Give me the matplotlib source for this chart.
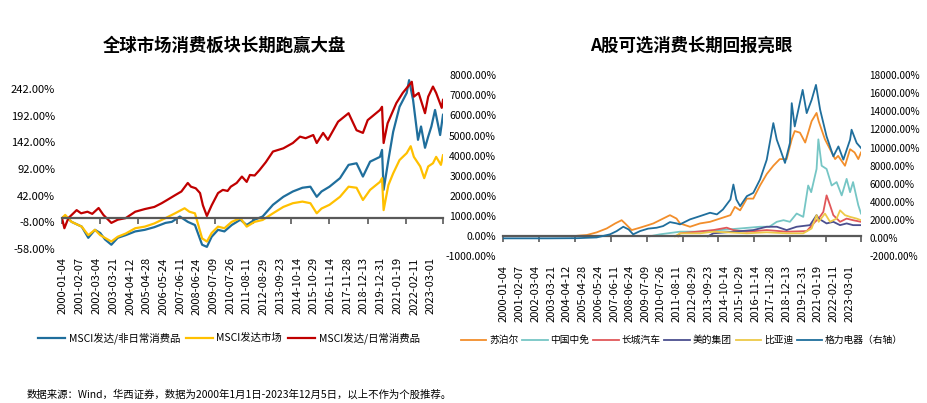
import numpy as np
import matplotlib
matplotlib.use("Agg")
import matplotlib.pyplot as plt
from datetime import date

plt.rcParams['font.family'] = ['Noto Sans CJK SC', 'DejaVu Sans']
plt.rcParams['axes.unicode_minus'] = False

# ---------------- data ----------------
date_labels = ["2000-01-04", "2001-02-07", "2002-03-04", "2003-03-21", "2004-04-12",
               "2005-04-28", "2006-05-24", "2007-06-11", "2008-06-24", "2009-07-09",
               "2010-07-26", "2011-08-11", "2012-08-29", "2013-09-23", "2014-10-14",
               "2015-10-29", "2016-11-14", "2017-11-28", "2018-12-13", "2019-12-31",
               "2021-01-19", "2022-02-11", "2023-03-01"]

left_title = "全球市场消费板块长期跑赢大盘"
right_title = "A股可选消费长期回报亮眼"
left_names = ["MSCI发达/非日常消费品", "MSCI发达市场", "MSCI发达/日常消费品"]
right_names = ["苏泊尔", "中国中免", "长城汽车", "美的集团", "比亚迪", "格力电器（右轴）"]
footer = "数据来源：Wind，华西证券，数据为2000年1月1日-2023年12月5日，以上不作为个股推荐。"

# left chart (cumulative return, %), (decimal year, value)
msci_discretionary = [(2000.0, 0), (2000.25, 3), (2000.6, -7), (2001.24, -16), (2001.65, -37), (2002.07, -22),
                      (2002.4, -28), (2002.7, -40), (2003.1, -50), (2003.5, -37), (2004.0, -32), (2004.6, -25),
                      (2005.2, -22), (2005.8, -17), (2006.5, -9), (2006.9, -7), (2007.4, 3), (2007.9, -7),
                      (2008.35, -13), (2008.8, -50), (2009.1, -54), (2009.4, -35), (2009.8, -22), (2010.2, -25),
                      (2010.66, -13), (2011.2, -3), (2011.6, -13), (2012.1, -3), (2012.6, 3), (2013.25, 25),
                      (2013.9, 40), (2014.5, 50), (2015.1, 57), (2015.6, 59), (2016.0, 40), (2016.3, 50),
                      (2016.8, 59), (2017.46, 75), (2018.0, 100), (2018.5, 103), (2018.9, 78), (2019.35, 106),
                      (2019.97, 115), (2020.1, 128), (2020.2, 53), (2020.5, 109), (2020.8, 162), (2021.2, 209),
                      (2021.65, 235), (2021.8, 259), (2022.05, 222), (2022.36, 147), (2022.55, 172),
                      (2022.8, 132), (2023.0, 153), (2023.2, 172), (2023.43, 203), (2023.75, 156), (2023.93, 194)]

msci_world = [(2000.0, 0), (2000.2, 6), (2000.6, -7), (2001.24, -16), (2001.65, -32), (2002.07, -22),
              (2002.4, -32), (2003.1, -44), (2003.5, -35), (2004.0, -29), (2004.6, -19), (2005.2, -16),
              (2005.8, -10), (2006.5, 0), (2007.1, 9), (2007.7, 18.5), (2008.0, 12), (2008.35, 9),
              (2008.8, -38), (2009.1, -44), (2009.4, -28), (2009.8, -16), (2010.2, -19), (2010.66, -7),
              (2011.2, 0), (2011.6, -16), (2012.1, -7), (2012.6, -3.5), (2013.25, 9), (2013.9, 21),
              (2014.5, 28), (2015.1, 31), (2015.6, 28), (2016.0, 9), (2016.3, 18), (2016.8, 25),
              (2017.46, 40), (2018.0, 59), (2018.5, 57), (2018.9, 34), (2019.35, 53), (2019.97, 68),
              (2020.1, 75), (2020.2, 15), (2020.5, 62), (2020.8, 84), (2021.2, 109), (2021.65, 122),
              (2021.9, 135), (2022.1, 115), (2022.5, 97), (2022.75, 75), (2023.0, 97), (2023.3, 103),
              (2023.5, 115), (2023.8, 100), (2023.93, 118)]

msci_staples = [(2000.0, 0), (2000.15, -19), (2000.4, 0), (2000.92, 15), (2001.2, 9), (2001.6, 12),
                (2001.9, 8), (2002.3, 19), (2002.6, 6), (2003.1, -9), (2003.5, -3), (2004.0, 0),
                (2004.6, 12), (2005.2, 17), (2005.8, 21), (2006.26, 28), (2006.6, 34), (2007.1, 43),
                (2007.5, 50), (2007.9, 66), (2008.1, 59), (2008.4, 56), (2008.67, 47), (2008.85, 24),
                (2009.1, 4), (2009.4, 24), (2009.8, 47), (2010.1, 53), (2010.4, 51), (2010.6, 59),
                (2010.97, 66), (2011.3, 78), (2011.6, 68), (2011.8, 81), (2012.1, 80), (2012.4, 90),
                (2012.8, 105), (2013.25, 125), (2013.9, 131), (2014.5, 141), (2014.95, 153), (2015.3, 150),
                (2015.78, 156), (2016.0, 141), (2016.4, 160), (2016.7, 147), (2017.34, 181), (2018.0, 197),
                (2018.5, 165), (2018.9, 160), (2019.2, 184), (2019.97, 203), (2020.1, 209), (2020.2, 141),
                (2020.45, 178), (2021.0, 216), (2021.4, 235), (2021.97, 256), (2022.1, 228), (2022.4, 235),
                (2022.8, 197), (2023.0, 228), (2023.3, 247), (2023.5, 235), (2023.85, 207), (2023.93, 222)]

# right chart (cumulative return, %)
supor = [(2004.6, 0), (2005.0, 30), (2005.6, 65), (2006.26, 196), (2006.93, 390), (2007.5, 640),
         (2007.93, 800), (2008.16, 640), (2008.6, 310), (2009.16, 430), (2009.7, 555), (2010.05, 640),
         (2010.7, 880), (2011.16, 1050), (2011.6, 880), (2011.83, 640), (2012.5, 475), (2013.17, 640),
         (2013.84, 720), (2014.5, 880), (2015.2, 1050), (2015.5, 1460), (2015.85, 1290), (2016.3, 1870),
         (2016.73, 1870), (2017.18, 2520), (2017.63, 3090), (2018.07, 3500), (2018.5, 3830),
         (2018.96, 3830), (2019.3, 4810), (2019.5, 5220), (2019.85, 5140), (2020.2, 4650),
         (2020.63, 5710), (2020.96, 6120), (2021.1, 5710), (2021.52, 4810), (2021.86, 4320),
         (2022.2, 3830), (2022.4, 3990), (2022.86, 3500), (2023.2, 4320), (2023.5, 4160),
         (2023.75, 3830), (2023.93, 4160)]

cdf = [(2009.8, 0), (2010.5, 100), (2011.83, 230), (2013.17, 230), (2014.5, 310), (2015.85, 390),
       (2017.18, 475), (2017.8, 475), (2018.3, 720), (2018.75, 800), (2019.18, 720), (2019.63, 1130),
       (2020.07, 965), (2020.4, 2520), (2020.6, 2190), (2020.96, 3340), (2021.08, 4810), (2021.3, 3500),
       (2021.63, 3340), (2021.97, 2520), (2022.3, 2690), (2022.64, 2030), (2022.97, 2850),
       (2023.2, 2190), (2023.4, 2690), (2023.75, 1540), (2023.93, 1130)]

gwm = [(2011.7, 0), (2011.83, 150), (2012.95, 230), (2014.06, 310), (2014.95, 430), (2015.4, 310),
       (2016.3, 230), (2017.63, 310), (2018.96, 230), (2020.3, 260), (2020.86, 720), (2021.1, 880),
       (2021.41, 1210), (2021.63, 2030), (2021.86, 1540), (2022.08, 1050), (2022.53, 720),
       (2022.97, 880), (2023.4, 800), (2023.93, 720)]

midea = [(2013.7, 0), (2014.06, 150), (2015.4, 230), (2016.73, 310), (2017.63, 475), (2018.3, 475),
         (2018.96, 310), (2019.63, 475), (2020.52, 555), (2020.96, 1050), (2021.1, 880), (2021.63, 640),
         (2022.08, 720), (2022.53, 555), (2022.97, 640), (2023.4, 555), (2023.93, 555)]

byd = [(2011.5, 0), (2011.83, 150), (2013.17, 150), (2014.06, 230), (2014.95, 200), (2016.3, 150),
       (2017.63, 200), (2018.96, 150), (2020.07, 150), (2020.63, 390), (2020.96, 1050), (2021.1, 720),
       (2021.52, 1130), (2021.86, 720), (2022.3, 880), (2022.53, 1290), (2022.86, 1050), (2023.2, 965),
       (2023.64, 880), (2023.93, 800)]

gree = [(2000.0, 0), (2003.0, 0), (2005.0, 20), (2005.6, 60), (2006.26, 100), (2007.15, 440),
        (2007.6, 800), (2008.04, 1280), (2008.4, 980), (2008.7, 440), (2009.16, 800), (2009.7, 1070),
        (2010.27, 1170), (2010.7, 1350), (2011.16, 1790), (2011.6, 1650), (2011.83, 1540), (2012.5, 2090),
        (2013.17, 2450), (2013.84, 2820), (2014.3, 2640), (2014.7, 3180), (2015.2, 4280), (2015.4, 5930),
        (2015.6, 4280), (2015.85, 3550), (2016.3, 4650), (2016.73, 5010), (2017.18, 6480),
        (2017.63, 8670), (2018.07, 12700), (2018.3, 10870), (2018.5, 9960), (2018.85, 8310),
        (2019.18, 10510), (2019.3, 14900), (2019.5, 12330), (2020.03, 16360), (2020.3, 13800),
        (2020.63, 15260), (2020.92, 16910), (2021.2, 14160), (2021.63, 11230), (2022.08, 9040),
        (2022.42, 10130), (2022.75, 8670), (2023.2, 10870), (2023.3, 11970), (2023.64, 10510),
        (2023.93, 9960)]

left_colors = ["#1F6E9C", "#FFC000", "#C00000"]
right_colors = ["#F28E2B", "#76C6C5", "#E15759", "#4B4F8F", "#EDC948", "#1F6E9C"]


def dec_year(s):
    y, m, d = map(int, s.split("-"))
    return y + (date(y, m, d).toordinal() - date(y, 1, 1).toordinal()) / 365.25


def unzip(series):
    a = np.array(series, dtype=float)
    return a[:, 0], a[:, 1]


label_pos = [dec_year(s) for s in date_labels]
X0, X1 = 2000.0, 2023.93
mark_pos = list(np.arange(X0, X1, 2.4)) + [X1]

fig = plt.figure(figsize=(9.28, 4.03), dpi=100)
W, H = 928, 403


def axes_px(l, t, r, b):
    return fig.add_axes([l / W, 1 - b / H, (r - l) / W, (b - t) / H])


def style_xaxis(ax, fs):
    for s in ax.spines.values():
        s.set_visible(False)
    ax.spines['bottom'].set_visible(True)
    ax.spines['bottom'].set_position(('data', 0))
    ax.spines['bottom'].set_color('#595959')
    ax.spines['bottom'].set_linewidth(1.6)
    ax.set_xticks(mark_pos)
    ax.tick_params(axis='x', which='both', length=4, width=1.2, color='#595959', labelbottom=False)
    ax.tick_params(axis='y', length=0, labelsize=fs, pad=5)
    sec = ax.secondary_xaxis('bottom')
    sec.set_xticks(label_pos, labels=date_labels, rotation=90)
    sec.tick_params(length=0, labelsize=8, pad=6)
    for s in sec.spines.values():
        s.set_visible(False)
    ax.set_xlim(X0, X1)


# ---------------- left chart ----------------
axl = axes_px(62, 62.6, 443, 249)
for series, name, c in zip([msci_discretionary, msci_world, msci_staples], left_names, left_colors):
    t, v = unzip(series)
    axl.plot(t, v, color=c, lw=1.6, label=name)
style_xaxis(axl, 8)
axl.set_ylim(-58, 292)
yt = np.arange(-58, 243, 50)
axl.set_yticks(yt, labels=[f"{v:.2f}%" for v in yt])
axl.legend(loc='center', bbox_to_anchor=(229 / W, 1 - 338 / H), bbox_transform=fig.transFigure,
           ncol=3, frameon=False, fontsize=7.5, handlelength=2.6, columnspacing=0.6, handletextpad=0.3)

# ---------------- right chart ----------------
axr = axes_px(503, 75, 861, 256.5)
ax2 = axr.twinx()
handles = []
for series, name, c in zip([supor, cdf, gwm, midea, byd], right_names[:5], right_colors[:5]):
    t, v = unzip(series)
    h, = axr.plot(t, v, color=c, lw=1.3, label=name)
    handles.append(h)
t, v = unzip(gree)
h, = ax2.plot(t, v, color=right_colors[5], lw=1.3, label=right_names[5])
handles.append(h)
style_xaxis(axr, 7.5)
axr.set_ylim(-1000, 8000)
yt = np.arange(-1000, 8001, 1000)
axr.set_yticks(yt, labels=[f"{v:.2f}%" for v in yt])
for s in ax2.spines.values():
    s.set_visible(False)
ax2.set_ylim(-2000, 18000)
yt2 = np.arange(-2000, 18001, 2000)
ax2.set_yticks(yt2, labels=[f"{v:.2f}%" for v in yt2])
ax2.tick_params(axis='y', length=0, labelsize=7.2, pad=6)
axr.legend(handles=handles, loc='center', bbox_to_anchor=(682 / W, 1 - 340 / H),
           bbox_transform=fig.transFigure, ncol=6, frameon=False, fontsize=7,
           handlelength=2.6, columnspacing=0.4, handletextpad=0.3)

# ---------------- texts ----------------
fig.text(224 / W, 1 - 46 / H, left_title, ha='center', va='center', fontsize=12.5, fontweight='bold')
fig.text(691 / W, 1 - 46 / H, right_title, ha='center', va='center', fontsize=12.5, fontweight='bold')
fig.text(27 / W, 1 - 395 / H, footer, ha='left', va='center', fontsize=7.5)

fig.savefig("out.png", dpi=100)
